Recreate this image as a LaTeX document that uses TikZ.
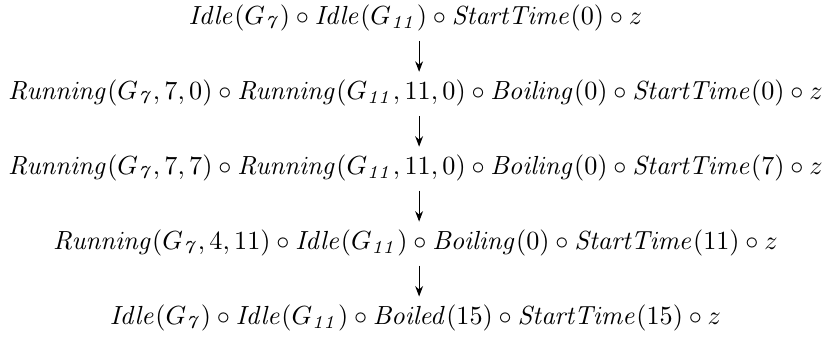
\documentclass[tikz,border=0pt]{standalone}
\usetikzlibrary{arrows.meta}
\newcommand{\fn}[1]{\mathit{#1}}
\tikzset{
  state/.style={inner sep=0pt, anchor=base},
  trans/.style={-{Stealth[length=4pt,width=3pt]}, line width=0.4pt}
}
\begin{document}
\begin{tikzpicture}[x=1pt,y=1pt]
  \useasboundingbox (-158.6,-119.4) rectangle (159.4,9.5);
  \node[state] (s1) at (0,0)
    {$\fn{Idle}(G_{\fn{7}}) \circ \fn{Idle}(G_{\fn{11}}) \circ \fn{StartTime}(0) \circ z$};
  \node[state] (s2) at (0,-28.6)
    {$\fn{Running}(G_{\fn{7}},7,0) \circ \fn{Running}(G_{\fn{11}},11,0) \circ \fn{Boiling}(0) \circ \fn{StartTime}(0) \circ z$};
  \node[state] (s3) at (0,-57.2)
    {$\fn{Running}(G_{\fn{7}},7,7) \circ \fn{Running}(G_{\fn{11}},11,0) \circ \fn{Boiling}(0) \circ \fn{StartTime}(7) \circ z$};
  \node[state] (s4) at (0,-85.8)
    {$\fn{Running}(G_{\fn{7}},4,11) \circ \fn{Idle}(G_{\fn{11}}) \circ \fn{Boiling}(0) \circ \fn{StartTime}(11) \circ z$};
  \node[state] (s5) at (0,-114.4)
    {$\fn{Idle}(G_{\fn{7}}) \circ \fn{Idle}(G_{\fn{11}}) \circ \fn{Boiled}(15) \circ \fn{StartTime}(15) \circ z$};
  \foreach \a/\b in {s1/s2,s2/s3,s3/s4,s4/s5}
    \draw[trans] ([xshift=1.4pt,yshift=-6.1pt]\a.base) -- ([xshift=1.4pt,yshift=10.7pt]\b.base);
\end{tikzpicture}
\end{document}
